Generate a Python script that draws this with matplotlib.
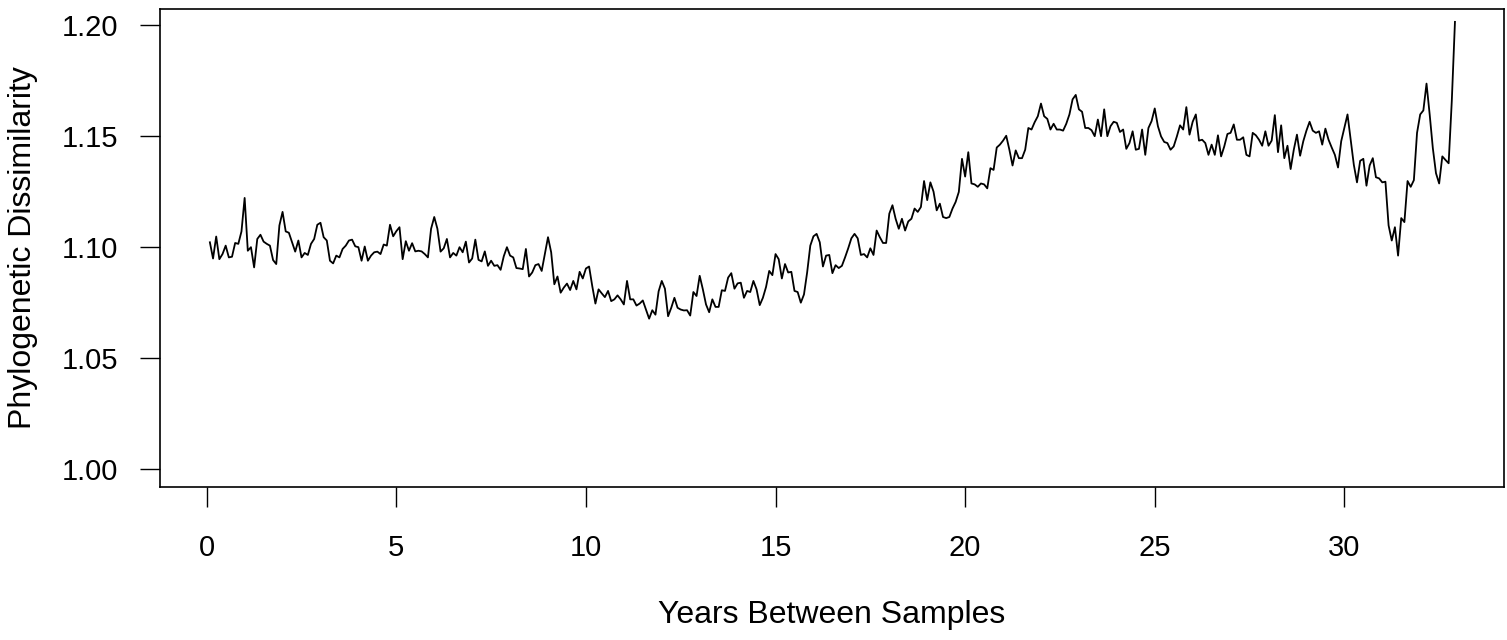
import numpy as np
import matplotlib
matplotlib.use("Agg")
import matplotlib.pyplot as plt

plt.rcParams['font.family'] = ['Liberation Sans', 'DejaVu Sans']

# monthly lags, 1..395 months, shown in years
dissimilarity = [
    1.1021, 1.0948, 1.1047, 1.0945, 1.0968, 1.1006, 1.0953, 1.0956, 1.1018, 1.1014,
    1.1070, 1.1221, 1.0983, 1.0999, 1.0908, 1.1036, 1.1055, 1.1024, 1.1014, 1.1006,
    1.0941, 1.0923, 1.1097, 1.1158, 1.1070, 1.1064, 1.1021, 1.0979, 1.1029, 1.0953,
    1.0973, 1.0964, 1.1014, 1.1036, 1.1100, 1.1109, 1.1044, 1.1029, 1.0938, 1.0926,
    1.0961, 1.0953, 1.0991, 1.1006, 1.1029, 1.1033, 1.1003, 1.0999,
    1.0938, 1.1002, 1.0938, 1.0961, 1.0976, 1.0979, 1.0968, 1.1011, 1.1006, 1.1100,
    1.1048, 1.1071, 1.1089, 1.0945, 1.1026, 1.0983, 1.1017, 1.0980, 1.0983, 1.0980,
    1.0968, 1.0953, 1.1082, 1.1135, 1.1082, 1.0979, 1.0994, 1.1036, 1.0953, 1.0973,
    1.0961, 1.0999, 1.0976, 1.1024, 1.0930, 1.0948, 1.1033, 1.0942, 1.0935, 1.0980,
    1.0915, 1.0938, 1.0915, 1.0918, 1.0897, 1.0958, 1.0999, 1.0961,
    1.0953, 1.0905, 1.0903, 1.0900, 1.0991, 1.0867, 1.0885, 1.0918, 1.0923, 1.0892,
    1.0968, 1.1044, 1.0976, 1.0832, 1.0867, 1.0794, 1.0817, 1.0835, 1.0806, 1.0847,
    1.0809, 1.0888, 1.0858, 1.0903, 1.0912, 1.0824, 1.0745, 1.0809, 1.0791, 1.0774,
    1.0802, 1.0756, 1.0764, 1.0782, 1.0764, 1.0741, 1.0847, 1.0764, 1.0764, 1.0736,
    1.0745, 1.0759, 1.0718, 1.0677, 1.0715, 1.0695, 1.0800,
    1.0847, 1.0812, 1.0688, 1.0726, 1.0771, 1.0726, 1.0718, 1.0714, 1.0715, 1.0691,
    1.0797, 1.0779, 1.0870, 1.0809, 1.0741, 1.0706, 1.0764, 1.0730, 1.0730, 1.0805,
    1.0802, 1.0862, 1.0882, 1.0812, 1.0836, 1.0839, 1.0771, 1.0802, 1.0797, 1.0847,
    1.0809, 1.0738, 1.0771, 1.0820, 1.0892, 1.0873, 1.0968, 1.0945, 1.0858, 1.0923,
    1.0885, 1.0888, 1.0802, 1.0797, 1.0749,
    1.0786, 1.0885, 1.1006, 1.1048, 1.1059, 1.1021, 1.0912, 1.0961, 1.0964, 1.0882,
    1.0918, 1.0905, 1.0915, 1.0953, 1.0994, 1.1039, 1.1059, 1.1039, 1.0964, 1.0968,
    1.0953, 1.0994, 1.0964, 1.1074, 1.1044, 1.1018, 1.1018, 1.1150, 1.1188, 1.1127,
    1.1082, 1.1127, 1.1074, 1.1115, 1.1127, 1.1173, 1.1158, 1.1180, 1.1297, 1.1211,
    1.1291, 1.1249, 1.1165, 1.1195, 1.1135, 1.1130, 1.1135, 1.1173, 1.1203,
    1.1248, 1.1397, 1.1317, 1.1427, 1.1286, 1.1282, 1.1271, 1.1286, 1.1282, 1.1264,
    1.1355, 1.1347, 1.1448, 1.1461, 1.1479, 1.1501, 1.1438, 1.1367, 1.1435, 1.1400,
    1.1400, 1.1438, 1.1536, 1.1529, 1.1562, 1.1589, 1.1646, 1.1589, 1.1577, 1.1529,
    1.1555, 1.1529, 1.1529, 1.1524, 1.1555, 1.1597, 1.1665, 1.1685, 1.1620, 1.1609,
    1.1536, 1.1536, 1.1526, 1.1499, 1.1574, 1.1499, 1.1620, 1.1499,
    1.1544, 1.1564, 1.1559, 1.1518, 1.1529, 1.1442, 1.1468, 1.1521, 1.1438, 1.1442,
    1.1529, 1.1415, 1.1536, 1.1567, 1.1624, 1.1544, 1.1498, 1.1473, 1.1468, 1.1438,
    1.1453, 1.1498, 1.1548, 1.1529, 1.1630, 1.1506, 1.1564, 1.1597, 1.1479, 1.1483,
    1.1468, 1.1415, 1.1461, 1.1415, 1.1503, 1.1408, 1.1453, 1.1509, 1.1514, 1.1552,
    1.1483, 1.1483, 1.1494, 1.1415, 1.1408, 1.1514, 1.1503, 1.1483,
    1.1456, 1.1521, 1.1456, 1.1479, 1.1594, 1.1427, 1.1548, 1.1400, 1.1456, 1.1351,
    1.1438, 1.1506, 1.1411, 1.1476, 1.1524, 1.1564, 1.1524, 1.1514, 1.1521, 1.1461,
    1.1533, 1.1483, 1.1448, 1.1415, 1.1358, 1.1476, 1.1536, 1.1597, 1.1483, 1.1370,
    1.1291, 1.1388, 1.1397, 1.1276, 1.1367, 1.1400, 1.1314, 1.1309, 1.1291, 1.1294,
    1.1097, 1.1029, 1.1089,
    1.0961, 1.1130, 1.1112, 1.1297, 1.1271, 1.1301, 1.1514, 1.1597, 1.1615, 1.1736,
    1.1597, 1.1445, 1.1332, 1.1286, 1.1408, 1.1392, 1.1377, 1.1658, 1.2014,
]
months = np.arange(1, len(dissimilarity) + 1)
years = months / 12.0

x_ticks = [0, 5, 10, 15, 20, 25, 30]
y_ticks = [1.00, 1.05, 1.10, 1.15, 1.20]
y_tick_labels = ["1.00", "1.05", "1.10", "1.15", "1.20"]

W, H = 1507, 640
fig = plt.figure(figsize=(W / 100, H / 100), dpi=100)
left, right, top, bottom = 160, 1504, 9, 486.7
ax = fig.add_axes([left / W, 1 - bottom / H, (right - left) / W, (bottom - top) / H])

ax.plot(years, dissimilarity, color='black', lw=1.3)

ax.set_xlim(-1.232, 34.21)
ax.set_ylim(0.992, 1.2072)
ax.set_xticks(x_ticks)
ax.set_yticks(y_ticks)
ax.set_yticklabels(y_tick_labels)

for s in ax.spines.values():
    s.set_linewidth(1.2)
ax.tick_params(direction='out', length=14.4, width=1.0, labelsize=21)
ax.tick_params(axis='x', pad=20)
ax.tick_params(axis='y', pad=16)

ax.set_xlabel("Years Between Samples", fontsize=23)
ax.xaxis.label.set_va('center')
ax.xaxis.set_label_coords(0.5, -(615 - bottom) / (bottom - top))
ax.set_ylabel("Phylogenetic Dissimilarity", fontsize=23)
ax.yaxis.label.set_va('center')
ax.yaxis.set_label_coords((23 - left) / (right - left), 0.5)

fig.savefig("out.png", dpi=100)
